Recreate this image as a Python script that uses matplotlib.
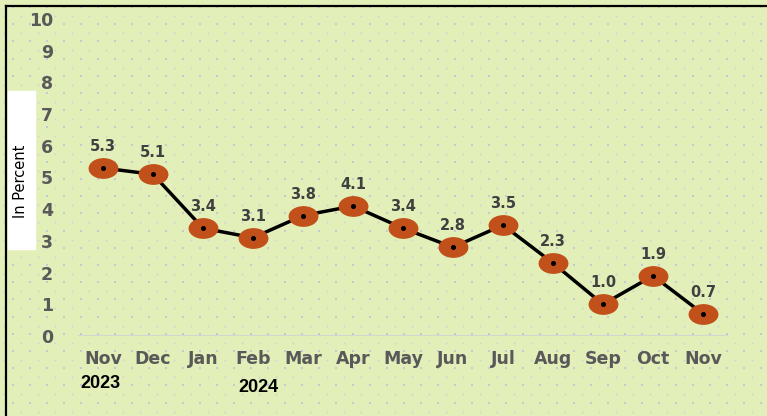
import matplotlib.pyplot as plt
from matplotlib.path import Path
from matplotlib.transforms import Affine2D
from matplotlib.patches import Rectangle
import numpy as np

months = ["Nov", "Dec", "Jan", "Feb", "Mar", "Apr", "May", "Jun", "Jul",
	"Aug", "Sep", "Oct", "Nov"]
inflation = [5.3, 5.1, 3.4, 3.1, 3.8, 4.1, 3.4, 2.8, 3.5, 2.3, 1.0, 1.9, 0.7]
yticks = [0, 1, 2, 3, 4, 5, 6, 7, 8, 9, 10]
years = ["2023", "2024"]
year_pos = [-0.05, 3.1]

bg = "#e3efb9"
orange = "#c2501a"
gray = "#595959"

fig = plt.figure(figsize = (7.67, 4.16), dpi = 100, facecolor = bg)

# dotted background pattern
W, H = 767, 416
bx, by = np.meshgrid(np.arange(13, W, 17), np.arange(7, H, 17.2))
sx, sy = np.meshgrid(np.arange(4, W, 17), np.arange(16, H, 17.2))
fig.add_artist(plt.Line2D(bx.ravel() / W, 1 - by.ravel() / H, ls = "none",
	marker = "s", ms = 1.6, mew = 0, color = "#c6c9d6", zorder = -2,
	transform = fig.transFigure))
fig.add_artist(plt.Line2D(sx.ravel() / W, 1 - sy.ravel() / H, ls = "none",
	marker = "s", ms = 1.2, mew = 0, color = "#d0d3d4", zorder = -2,
	transform = fig.transFigure))

# frame lines on left and top
fig.add_artist(plt.Line2D([6 / W, 6 / W], [0, 1 - 6 / H], color = "black",
	lw = 1.6, transform = fig.transFigure))
fig.add_artist(plt.Line2D([6 / W, 1], [1 - 6 / H, 1 - 6 / H], color = "black",
	lw = 1.6, transform = fig.transFigure))

ax = fig.add_axes([78 / W, 1 - 336 / H, 650 / W, 317 / H])
ax.set_facecolor("none")
ax.set_xlim(-0.5, 12.5)
ax.set_ylim(0, 10)
for s in ax.spines.values():
	s.set_visible(False)
ax.axhline(0, color = "#d3d3d3", lw = 1.3, zorder = 1)

x = np.arange(len(months))
circ = Path.unit_circle()
ellipse = Path(Affine2D().scale(1.0, 0.68).transform(circ.vertices), circ.codes)
ax.plot(x, inflation, color = "black", lw = 2.5, zorder = 2, clip_on = False)
ax.plot(x, inflation, ls = "none", marker = ellipse, ms = 20.5, mfc = orange,
	mec = orange, zorder = 3, clip_on = False)
ax.plot(x, inflation, ls = "none", marker = "o", ms = 2.6, color = "black",
	zorder = 4, clip_on = False)
for xi, v in zip(x, inflation):
	ax.annotate("%.1f" % v, (xi, v), xytext = (0, 10), textcoords = "offset points",
		ha = "center", va = "bottom", fontsize = 10.5, fontweight = "bold",
		color = "#404040")

ax.set_xticks(x)
ax.set_xticklabels(months)
ax.set_yticks(yticks)
ax.tick_params(length = 0)
ax.tick_params(axis = "x", pad = 10)
ax.tick_params(axis = "y", pad = 18)
for t in ax.get_xticklabels() + ax.get_yticklabels():
	t.set_fontsize(12.5)
	t.set_fontweight("bold")
	t.set_color(gray)

for yr, p in zip(years, year_pos):
	ax.text(p, -47 / 31.7 if yr == "2023" else -52 / 31.7, yr, ha = "center",
		va = "center", fontsize = 13, fontweight = "bold",
		family = "Liberation Sans", color = "black")

fig.add_artist(Rectangle((8 / W, 1 - 249 / H), 27 / W, 158 / H, color = "white",
	transform = fig.transFigure, zorder = 5))
fig.text(21 / W, 1 - 181 / H, "In Percent", rotation = 90, ha = "center",
	va = "center", fontsize = 10.5, color = "black", zorder = 6)

plt.savefig("out.png", dpi = 100, facecolor = bg)
